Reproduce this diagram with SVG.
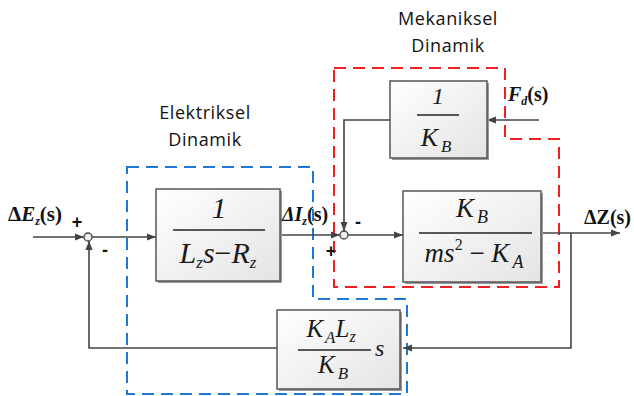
<svg xmlns="http://www.w3.org/2000/svg" width="634" height="396" viewBox="0 0 634 396">
<defs>
<linearGradient id="bg" x1="0" y1="0" x2="1" y2="1">
<stop offset="0" stop-color="#ffffff"/>
<stop offset="1" stop-color="#e4e4e4"/>
</linearGradient>
<marker id="ar" viewBox="0 0 10 10" refX="10" refY="5" markerWidth="9" markerHeight="9" markerUnits="userSpaceOnUse" orient="auto">
<path d="M0,1 L10,5 L0,9 z" fill="#444"/>
</marker>
<style>
.blk{fill:url(#bg);stroke:#555;stroke-width:1.5}
.sh{fill:#9a9a9a}
.ln{fill:none;stroke:#444;stroke-width:1.6}
.fr{stroke:#222;stroke-width:1.6}
.mt{font-family:"Liberation Serif",serif;font-style:italic;fill:#1a1a1a}
.bd{font-family:"Liberation Serif",serif;font-weight:bold;fill:#111}
.sg{font-family:"Liberation Sans",sans-serif;font-weight:bold;fill:#111;text-anchor:middle}
.lbl{font-family:"Open Sans","Liberation Sans",sans-serif;font-size:18px;letter-spacing:0.6px;fill:#111;text-anchor:middle}
.blue{fill:none;stroke:#1e7ad0;stroke-width:2;stroke-dasharray:12,7}
.red{fill:none;stroke:#f01e1e;stroke-width:2;stroke-dasharray:12,7}
.sum{fill:#eee;stroke:#444;stroke-width:1.3}
</style>
</defs>

<g id="regions">
<path class="blue" d="M127,167 H313 V299 H407 V394 H127 Z"/>
<path class="red" d="M334,68 H505 V139 H559 V287 H334 Z"/>
<text class="lbl" x="205" y="119">Elektriksel</text>
<text class="lbl" x="205" y="146">Dinamik</text>
<text class="lbl" x="448" y="25">Mekaniksel</text>
<text class="lbl" x="448" y="52">Dinamik</text>
</g>

<g id="connectors">
<line class="ln" x1="33" y1="237" x2="84" y2="237" marker-end="url(#ar)"/>
<line class="ln" x1="92" y1="237" x2="156" y2="237" marker-end="url(#ar)"/>
<line class="ln" x1="280" y1="235" x2="340" y2="235" marker-end="url(#ar)"/>
<line class="ln" x1="348" y1="235" x2="403" y2="235" marker-end="url(#ar)"/>
<line class="ln" x1="542" y1="233" x2="620" y2="233" marker-end="url(#ar)"/>
<polyline class="ln" points="571,233 571,348 403,348" marker-end="url(#ar)"/>
<polyline class="ln" points="277,348 89,348 89,241" marker-end="url(#ar)"/>
<polyline class="ln" points="390,120 344,120 344,231" marker-end="url(#ar)"/>
<line class="ln" x1="539" y1="120" x2="487" y2="120" marker-end="url(#ar)"/>
</g>

<g id="sum1">
<circle class="sum" cx="88" cy="237" r="4"/>
<text class="sg" x="77" y="228" font-size="18">+</text>
<text class="sg" x="105" y="256" font-size="18">-</text>
</g>
<g id="sum2">
<circle class="sum" cx="344" cy="235" r="4"/>
<text class="sg" x="331" y="257" font-size="18">+</text>
<text class="sg" x="358" y="228" font-size="18">-</text>
</g>

<g id="block1">
<rect class="sh" x="158" y="191" width="124" height="92"/>
<rect class="blk" x="156" y="189" width="124" height="92"/>
<text class="mt" x="219" y="218" font-size="30" text-anchor="middle" font-style="normal">1</text>
<line class="fr" x1="173" y1="230" x2="265" y2="230"/>
<text class="mt" x="218" y="263" font-size="30" text-anchor="middle">L<tspan font-size="17" dy="5">z</tspan><tspan dy="-5">s</tspan><tspan font-style="normal">−</tspan>R<tspan font-size="17" dy="5">z</tspan></text>
</g>

<g id="block2">
<rect class="sh" x="405" y="193" width="138" height="91"/>
<rect class="blk" x="403" y="191" width="138" height="91"/>
<text class="mt" x="472" y="217" font-size="27" text-anchor="middle">K<tspan font-size="18" dy="6" dx="3">B</tspan></text>
<line class="fr" x1="419" y1="233" x2="532" y2="233"/>
<text class="mt" x="474" y="262" font-size="27" text-anchor="middle">ms<tspan font-size="16" dy="-12" font-style="normal">2</tspan><tspan dy="12" font-style="normal"> − </tspan>K<tspan font-size="18" dy="6" dx="3">A</tspan></text>
</g>

<g id="block3">
<rect class="sh" x="392" y="83" width="97" height="77"/>
<rect class="blk" x="390" y="81" width="97" height="77"/>
<text class="mt" x="438" y="104" font-size="24" text-anchor="middle" font-style="normal">1</text>
<line class="fr" x1="417" y1="115" x2="459" y2="115"/>
<text class="mt" x="436" y="146" font-size="26" text-anchor="middle">K<tspan font-size="17" dy="6" dx="3">B</tspan></text>
</g>

<g id="block4">
<rect class="sh" x="279" y="312" width="123" height="79"/>
<rect class="blk" x="277" y="310" width="123" height="79"/>
<text class="mt" x="331" y="337" font-size="25" text-anchor="middle">K<tspan font-size="17" dy="6" dx="2">A</tspan><tspan dy="-6">L</tspan><tspan font-size="16" dy="5">z</tspan></text>
<line class="fr" x1="298" y1="350" x2="371" y2="350"/>
<text class="mt" x="333" y="373" font-size="25" text-anchor="middle">K<tspan font-size="17" dy="6" dx="3">B</tspan></text>
<text class="mt" x="375" y="356" font-size="24">s</text>
</g>

<g id="labels">
<text class="bd" x="8" y="221" font-size="21">Δ<tspan font-style="italic">E</tspan><tspan font-size="12" font-style="italic" dy="4">z</tspan><tspan dy="-4">(s)</tspan></text>
<text class="bd" x="282" y="221" font-size="20"><tspan font-style="italic">ΔI</tspan><tspan font-size="12" font-style="italic" dy="4">z</tspan><tspan dy="-4">(s)</tspan></text>
<text class="bd" x="584" y="224" font-size="20">ΔZ(s)</text>
<text class="bd" x="508" y="101" font-size="20"><tspan font-style="italic">F</tspan><tspan font-size="12" font-style="italic" dy="4">d</tspan><tspan dy="-4">(s)</tspan></text>
</g>
</svg>
